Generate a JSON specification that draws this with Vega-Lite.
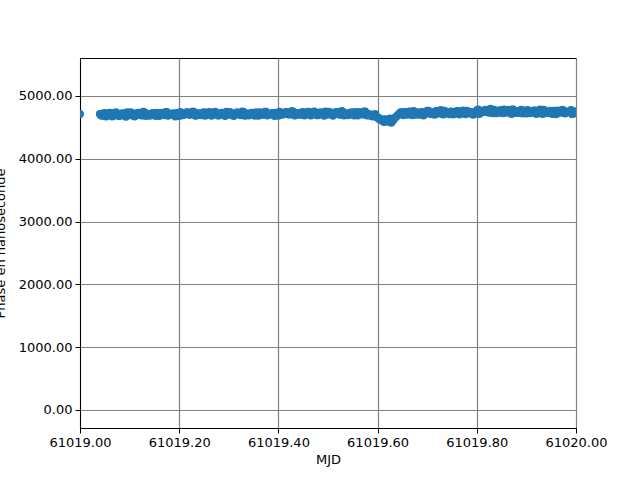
{
  "$schema": "https://vega.github.io/schema/vega-lite/v6.json",
  "width": 496,
  "height": 370,
  "autosize": {"type": "none"},
  "padding": {"left": 80, "top": 58, "right": 64, "bottom": 52},
  "background": "white",
  "config": {
    "font": "DejaVu Sans",
    "view": {"stroke": "black", "strokeWidth": 1},
    "axis": {
      "labelFont": "DejaVu Sans",
      "titleFont": "DejaVu Sans",
      "labelFontSize": 13,
      "titleFontSize": 13,
      "titleFontWeight": "normal",
      "labelColor": "black",
      "titleColor": "black",
      "tickColor": "black",
      "tickSize": 5,
      "domainColor": "black",
      "gridColor": "#808080",
      "gridWidth": 1.2,
      "gridOpacity": 1,
      "labelPadding": 3
    }
  },
  "data": {"values": [
    {"mjd": 61019.000, "phase": 4715},
    {"mjd": 61019.040, "phase": 4715},{"mjd": 61019.045, "phase": 4685},{"mjd": 61019.050, "phase": 4730},{"mjd": 61019.055, "phase": 4700},
    {"mjd": 61019.060, "phase": 4735},{"mjd": 61019.065, "phase": 4675},{"mjd": 61019.070, "phase": 4705},{"mjd": 61019.075, "phase": 4720},
    {"mjd": 61019.080, "phase": 4680},{"mjd": 61019.085, "phase": 4725},{"mjd": 61019.090, "phase": 4695},{"mjd": 61019.095, "phase": 4740},
    {"mjd": 61019.100, "phase": 4695},{"mjd": 61019.105, "phase": 4715},{"mjd": 61019.110, "phase": 4675},{"mjd": 61019.115, "phase": 4730},
    {"mjd": 61019.120, "phase": 4720},{"mjd": 61019.125, "phase": 4690},{"mjd": 61019.130, "phase": 4740},{"mjd": 61019.135, "phase": 4705},
    {"mjd": 61019.140, "phase": 4685},{"mjd": 61019.145, "phase": 4725},{"mjd": 61019.150, "phase": 4710},{"mjd": 61019.155, "phase": 4735},
    {"mjd": 61019.160, "phase": 4680},{"mjd": 61019.165, "phase": 4720},{"mjd": 61019.170, "phase": 4695},{"mjd": 61019.175, "phase": 4745},
    {"mjd": 61019.180, "phase": 4700},{"mjd": 61019.185, "phase": 4715},{"mjd": 61019.190, "phase": 4690},{"mjd": 61019.195, "phase": 4730},
    {"mjd": 61019.200, "phase": 4680},{"mjd": 61019.205, "phase": 4730},{"mjd": 61019.210, "phase": 4710},{"mjd": 61019.215, "phase": 4740},
    {"mjd": 61019.220, "phase": 4700},{"mjd": 61019.225, "phase": 4715},{"mjd": 61019.230, "phase": 4745},{"mjd": 61019.235, "phase": 4690},
    {"mjd": 61019.240, "phase": 4725},{"mjd": 61019.245, "phase": 4695},{"mjd": 61019.250, "phase": 4740},{"mjd": 61019.255, "phase": 4710},
    {"mjd": 61019.260, "phase": 4745},{"mjd": 61019.265, "phase": 4685},{"mjd": 61019.270, "phase": 4715},{"mjd": 61019.275, "phase": 4730},
    {"mjd": 61019.280, "phase": 4690},{"mjd": 61019.285, "phase": 4735},{"mjd": 61019.290, "phase": 4705},{"mjd": 61019.295, "phase": 4750},
    {"mjd": 61019.300, "phase": 4700},{"mjd": 61019.305, "phase": 4720},{"mjd": 61019.310, "phase": 4680},{"mjd": 61019.315, "phase": 4735},
    {"mjd": 61019.320, "phase": 4725},{"mjd": 61019.325, "phase": 4695},{"mjd": 61019.330, "phase": 4745},{"mjd": 61019.335, "phase": 4710},
    {"mjd": 61019.340, "phase": 4690},{"mjd": 61019.345, "phase": 4730},{"mjd": 61019.350, "phase": 4715},{"mjd": 61019.355, "phase": 4740},
    {"mjd": 61019.360, "phase": 4685},{"mjd": 61019.365, "phase": 4725},{"mjd": 61019.370, "phase": 4700},{"mjd": 61019.375, "phase": 4750},
    {"mjd": 61019.380, "phase": 4705},{"mjd": 61019.385, "phase": 4720},{"mjd": 61019.390, "phase": 4695},{"mjd": 61019.395, "phase": 4735},
    {"mjd": 61019.400, "phase": 4685},{"mjd": 61019.405, "phase": 4735},{"mjd": 61019.410, "phase": 4715},{"mjd": 61019.415, "phase": 4745},
    {"mjd": 61019.420, "phase": 4705},{"mjd": 61019.425, "phase": 4720},{"mjd": 61019.430, "phase": 4750},{"mjd": 61019.435, "phase": 4695},
    {"mjd": 61019.440, "phase": 4730},{"mjd": 61019.445, "phase": 4700},{"mjd": 61019.450, "phase": 4745},{"mjd": 61019.455, "phase": 4715},
    {"mjd": 61019.460, "phase": 4750},{"mjd": 61019.465, "phase": 4690},{"mjd": 61019.470, "phase": 4720},{"mjd": 61019.475, "phase": 4735},
    {"mjd": 61019.480, "phase": 4695},{"mjd": 61019.485, "phase": 4740},{"mjd": 61019.490, "phase": 4710},{"mjd": 61019.495, "phase": 4755},
    {"mjd": 61019.500, "phase": 4705},{"mjd": 61019.505, "phase": 4725},{"mjd": 61019.510, "phase": 4685},{"mjd": 61019.515, "phase": 4740},
    {"mjd": 61019.520, "phase": 4730},{"mjd": 61019.525, "phase": 4700},{"mjd": 61019.530, "phase": 4750},{"mjd": 61019.535, "phase": 4715},
    {"mjd": 61019.540, "phase": 4695},{"mjd": 61019.545, "phase": 4735},{"mjd": 61019.550, "phase": 4720},{"mjd": 61019.555, "phase": 4745},
    {"mjd": 61019.560, "phase": 4690},{"mjd": 61019.565, "phase": 4730},{"mjd": 61019.570, "phase": 4705},{"mjd": 61019.575, "phase": 4755},
    {"mjd": 61019.580, "phase": 4690},{"mjd": 61019.585, "phase": 4710},{"mjd": 61019.590, "phase": 4675},{"mjd": 61019.595, "phase": 4715},
    {"mjd": 61019.600, "phase": 4660},{"mjd": 61019.605, "phase": 4640},{"mjd": 61019.610, "phase": 4610},{"mjd": 61019.615, "phase": 4630},
    {"mjd": 61019.620, "phase": 4590},{"mjd": 61019.625, "phase": 4640},{"mjd": 61019.630, "phase": 4600},{"mjd": 61019.635, "phase": 4655},
    {"mjd": 61019.640, "phase": 4690},{"mjd": 61019.645, "phase": 4730},{"mjd": 61019.650, "phase": 4710},{"mjd": 61019.655, "phase": 4745},
    {"mjd": 61019.660, "phase": 4700},{"mjd": 61019.665, "phase": 4755},{"mjd": 61019.670, "phase": 4695},{"mjd": 61019.675, "phase": 4725},
    {"mjd": 61019.680, "phase": 4740},{"mjd": 61019.685, "phase": 4700},{"mjd": 61019.690, "phase": 4745},{"mjd": 61019.695, "phase": 4715},
    {"mjd": 61019.700, "phase": 4765},{"mjd": 61019.705, "phase": 4720},{"mjd": 61019.710, "phase": 4740},{"mjd": 61019.715, "phase": 4700},
    {"mjd": 61019.720, "phase": 4755},{"mjd": 61019.725, "phase": 4745},{"mjd": 61019.730, "phase": 4715},{"mjd": 61019.735, "phase": 4765},
    {"mjd": 61019.740, "phase": 4730},{"mjd": 61019.745, "phase": 4710},{"mjd": 61019.750, "phase": 4750},{"mjd": 61019.755, "phase": 4735},
    {"mjd": 61019.760, "phase": 4760},{"mjd": 61019.765, "phase": 4705},{"mjd": 61019.770, "phase": 4745},{"mjd": 61019.775, "phase": 4720},
    {"mjd": 61019.780, "phase": 4765},{"mjd": 61019.785, "phase": 4725},{"mjd": 61019.790, "phase": 4740},{"mjd": 61019.795, "phase": 4715},
    {"mjd": 61019.800, "phase": 4770},{"mjd": 61019.805, "phase": 4715},{"mjd": 61019.810, "phase": 4765},{"mjd": 61019.815, "phase": 4745},
    {"mjd": 61019.820, "phase": 4775},{"mjd": 61019.825, "phase": 4735},{"mjd": 61019.830, "phase": 4750},{"mjd": 61019.835, "phase": 4780},
    {"mjd": 61019.840, "phase": 4725},{"mjd": 61019.845, "phase": 4760},{"mjd": 61019.850, "phase": 4730},{"mjd": 61019.855, "phase": 4785},
    {"mjd": 61019.860, "phase": 4735},{"mjd": 61019.865, "phase": 4755},{"mjd": 61019.870, "phase": 4715},{"mjd": 61019.875, "phase": 4770},
    {"mjd": 61019.880, "phase": 4760},{"mjd": 61019.885, "phase": 4730},{"mjd": 61019.890, "phase": 4780},{"mjd": 61019.895, "phase": 4745},
    {"mjd": 61019.900, "phase": 4720},{"mjd": 61019.905, "phase": 4760},{"mjd": 61019.910, "phase": 4745},{"mjd": 61019.915, "phase": 4770},
    {"mjd": 61019.920, "phase": 4715},{"mjd": 61019.925, "phase": 4755},{"mjd": 61019.930, "phase": 4730},{"mjd": 61019.935, "phase": 4780},
    {"mjd": 61019.940, "phase": 4735},{"mjd": 61019.945, "phase": 4750},{"mjd": 61019.950, "phase": 4725},{"mjd": 61019.955, "phase": 4765},
    {"mjd": 61019.960, "phase": 4710},{"mjd": 61019.965, "phase": 4760},{"mjd": 61019.970, "phase": 4740},{"mjd": 61019.975, "phase": 4770},
    {"mjd": 61019.980, "phase": 4730},{"mjd": 61019.985, "phase": 4745},{"mjd": 61019.990, "phase": 4775},{"mjd": 61019.995, "phase": 4720},
    {"mjd": 61020.000, "phase": 4750},
    {"mjd": 61019.0425, "phase": 4690},{"mjd": 61019.0475, "phase": 4725},{"mjd": 61019.0525, "phase": 4675},{"mjd": 61019.0575, "phase": 4710},
    {"mjd": 61019.0625, "phase": 4730},{"mjd": 61019.0675, "phase": 4695},{"mjd": 61019.0725, "phase": 4740},{"mjd": 61019.0775, "phase": 4680},
    {"mjd": 61019.0825, "phase": 4705},{"mjd": 61019.0875, "phase": 4720},{"mjd": 61019.0925, "phase": 4670},{"mjd": 61019.0975, "phase": 4715},
    {"mjd": 61019.1025, "phase": 4740},{"mjd": 61019.1075, "phase": 4690},{"mjd": 61019.1125, "phase": 4705},{"mjd": 61019.1175, "phase": 4735},
    {"mjd": 61019.1225, "phase": 4695},{"mjd": 61019.1275, "phase": 4750},{"mjd": 61019.1325, "phase": 4680},{"mjd": 61019.1375, "phase": 4715},
    {"mjd": 61019.1425, "phase": 4695},{"mjd": 61019.1475, "phase": 4730},{"mjd": 61019.1525, "phase": 4680},{"mjd": 61019.1575, "phase": 4715},
    {"mjd": 61019.1625, "phase": 4735},{"mjd": 61019.1675, "phase": 4700},{"mjd": 61019.1725, "phase": 4745},{"mjd": 61019.1775, "phase": 4685},
    {"mjd": 61019.1825, "phase": 4710},{"mjd": 61019.1875, "phase": 4725},{"mjd": 61019.1925, "phase": 4675},{"mjd": 61019.1975, "phase": 4720},
    {"mjd": 61019.2025, "phase": 4745},{"mjd": 61019.2075, "phase": 4695},{"mjd": 61019.2125, "phase": 4710},{"mjd": 61019.2175, "phase": 4740},
    {"mjd": 61019.2225, "phase": 4700},{"mjd": 61019.2275, "phase": 4755},{"mjd": 61019.2325, "phase": 4685},{"mjd": 61019.2375, "phase": 4720},
    {"mjd": 61019.2425, "phase": 4700},{"mjd": 61019.2475, "phase": 4735},{"mjd": 61019.2525, "phase": 4685},{"mjd": 61019.2575, "phase": 4720},
    {"mjd": 61019.2625, "phase": 4740},{"mjd": 61019.2675, "phase": 4705},{"mjd": 61019.2725, "phase": 4750},{"mjd": 61019.2775, "phase": 4690},
    {"mjd": 61019.2825, "phase": 4715},{"mjd": 61019.2875, "phase": 4730},{"mjd": 61019.2925, "phase": 4680},{"mjd": 61019.2975, "phase": 4725},
    {"mjd": 61019.3025, "phase": 4745},{"mjd": 61019.3075, "phase": 4695},{"mjd": 61019.3125, "phase": 4710},{"mjd": 61019.3175, "phase": 4740},
    {"mjd": 61019.3225, "phase": 4700},{"mjd": 61019.3275, "phase": 4755},{"mjd": 61019.3325, "phase": 4685},{"mjd": 61019.3375, "phase": 4720},
    {"mjd": 61019.3425, "phase": 4700},{"mjd": 61019.3475, "phase": 4735},{"mjd": 61019.3525, "phase": 4685},{"mjd": 61019.3575, "phase": 4720},
    {"mjd": 61019.3625, "phase": 4740},{"mjd": 61019.3675, "phase": 4705},{"mjd": 61019.3725, "phase": 4750},{"mjd": 61019.3775, "phase": 4690},
    {"mjd": 61019.3825, "phase": 4715},{"mjd": 61019.3875, "phase": 4730},{"mjd": 61019.3925, "phase": 4680},{"mjd": 61019.3975, "phase": 4725},
    {"mjd": 61019.4025, "phase": 4750},{"mjd": 61019.4075, "phase": 4700},{"mjd": 61019.4125, "phase": 4715},{"mjd": 61019.4175, "phase": 4745},
    {"mjd": 61019.4225, "phase": 4705},{"mjd": 61019.4275, "phase": 4760},{"mjd": 61019.4325, "phase": 4690},{"mjd": 61019.4375, "phase": 4725},
    {"mjd": 61019.4425, "phase": 4705},{"mjd": 61019.4475, "phase": 4740},{"mjd": 61019.4525, "phase": 4690},{"mjd": 61019.4575, "phase": 4725},
    {"mjd": 61019.4625, "phase": 4745},{"mjd": 61019.4675, "phase": 4710},{"mjd": 61019.4725, "phase": 4755},{"mjd": 61019.4775, "phase": 4695},
    {"mjd": 61019.4825, "phase": 4720},{"mjd": 61019.4875, "phase": 4735},{"mjd": 61019.4925, "phase": 4685},{"mjd": 61019.4975, "phase": 4730},
    {"mjd": 61019.5025, "phase": 4750},{"mjd": 61019.5075, "phase": 4700},{"mjd": 61019.5125, "phase": 4715},{"mjd": 61019.5175, "phase": 4745},
    {"mjd": 61019.5225, "phase": 4705},{"mjd": 61019.5275, "phase": 4760},{"mjd": 61019.5325, "phase": 4690},{"mjd": 61019.5375, "phase": 4725},
    {"mjd": 61019.5425, "phase": 4705},{"mjd": 61019.5475, "phase": 4740},{"mjd": 61019.5525, "phase": 4690},{"mjd": 61019.5575, "phase": 4725},
    {"mjd": 61019.5625, "phase": 4745},{"mjd": 61019.5675, "phase": 4710},{"mjd": 61019.5725, "phase": 4755},{"mjd": 61019.5775, "phase": 4695},
    {"mjd": 61019.5825, "phase": 4705},{"mjd": 61019.5875, "phase": 4680},{"mjd": 61019.5925, "phase": 4695},{"mjd": 61019.5975, "phase": 4665},
    {"mjd": 61019.6025, "phase": 4635},{"mjd": 61019.6075, "phase": 4615},{"mjd": 61019.6125, "phase": 4585},{"mjd": 61019.6175, "phase": 4620},
    {"mjd": 61019.6225, "phase": 4605},{"mjd": 61019.6275, "phase": 4575},{"mjd": 61019.6325, "phase": 4625},{"mjd": 61019.6375, "phase": 4670},
    {"mjd": 61019.6425, "phase": 4710},{"mjd": 61019.6475, "phase": 4745},{"mjd": 61019.6525, "phase": 4695},{"mjd": 61019.6575, "phase": 4730},
    {"mjd": 61019.6625, "phase": 4750},{"mjd": 61019.6675, "phase": 4715},{"mjd": 61019.6725, "phase": 4760},{"mjd": 61019.6775, "phase": 4700},
    {"mjd": 61019.6825, "phase": 4725},{"mjd": 61019.6875, "phase": 4740},{"mjd": 61019.6925, "phase": 4690},{"mjd": 61019.6975, "phase": 4735},
    {"mjd": 61019.7025, "phase": 4765},{"mjd": 61019.7075, "phase": 4715},{"mjd": 61019.7125, "phase": 4730},{"mjd": 61019.7175, "phase": 4760},
    {"mjd": 61019.7225, "phase": 4720},{"mjd": 61019.7275, "phase": 4775},{"mjd": 61019.7325, "phase": 4705},{"mjd": 61019.7375, "phase": 4740},
    {"mjd": 61019.7425, "phase": 4720},{"mjd": 61019.7475, "phase": 4755},{"mjd": 61019.7525, "phase": 4705},{"mjd": 61019.7575, "phase": 4740},
    {"mjd": 61019.7625, "phase": 4760},{"mjd": 61019.7675, "phase": 4725},{"mjd": 61019.7725, "phase": 4770},{"mjd": 61019.7775, "phase": 4710},
    {"mjd": 61019.7825, "phase": 4735},{"mjd": 61019.7875, "phase": 4750},{"mjd": 61019.7925, "phase": 4700},{"mjd": 61019.7975, "phase": 4745},
    {"mjd": 61019.8025, "phase": 4785},{"mjd": 61019.8075, "phase": 4735},{"mjd": 61019.8125, "phase": 4750},{"mjd": 61019.8175, "phase": 4780},
    {"mjd": 61019.8225, "phase": 4740},{"mjd": 61019.8275, "phase": 4795},{"mjd": 61019.8325, "phase": 4725},{"mjd": 61019.8375, "phase": 4760},
    {"mjd": 61019.8425, "phase": 4740},{"mjd": 61019.8475, "phase": 4775},{"mjd": 61019.8525, "phase": 4725},{"mjd": 61019.8575, "phase": 4760},
    {"mjd": 61019.8625, "phase": 4780},{"mjd": 61019.8675, "phase": 4745},{"mjd": 61019.8725, "phase": 4790},{"mjd": 61019.8775, "phase": 4730},
    {"mjd": 61019.8825, "phase": 4755},{"mjd": 61019.8875, "phase": 4770},{"mjd": 61019.8925, "phase": 4720},{"mjd": 61019.8975, "phase": 4765},
    {"mjd": 61019.9025, "phase": 4775},{"mjd": 61019.9075, "phase": 4725},{"mjd": 61019.9125, "phase": 4740},{"mjd": 61019.9175, "phase": 4770},
    {"mjd": 61019.9225, "phase": 4730},{"mjd": 61019.9275, "phase": 4785},{"mjd": 61019.9325, "phase": 4715},{"mjd": 61019.9375, "phase": 4750},
    {"mjd": 61019.9425, "phase": 4730},{"mjd": 61019.9475, "phase": 4765},{"mjd": 61019.9525, "phase": 4715},{"mjd": 61019.9575, "phase": 4750},
    {"mjd": 61019.9625, "phase": 4770},{"mjd": 61019.9675, "phase": 4735},{"mjd": 61019.9725, "phase": 4780},{"mjd": 61019.9775, "phase": 4720},
    {"mjd": 61019.9825, "phase": 4745},{"mjd": 61019.9875, "phase": 4760},{"mjd": 61019.9925, "phase": 4710},{"mjd": 61019.9975, "phase": 4755}
  ]},
  "mark": {"type": "circle", "size": 64, "color": "#1f77b4", "opacity": 1, "clip": true},
  "encoding": {
    "x": {
      "field": "mjd", "type": "quantitative",
      "scale": {"domain": [61019, 61020], "nice": false, "zero": false},
      "axis": {"values": [61019, 61019.2, 61019.4, 61019.6, 61019.8, 61020], "format": ".2f", "title": "MJD", "grid": true, "labelFlush": false, "titlePadding": 4}
    },
    "y": {
      "field": "phase", "type": "quantitative",
      "scale": {"domain": [-287, 5605], "nice": false, "zero": false},
      "axis": {"values": [0, 1000, 2000, 3000, 4000, 5000], "format": ".2f", "title": "Phase en nanoseconde", "grid": true, "titleX": -73, "titleY": 185, "titleBaseline": "bottom", "titleAngle": -90, "titleAlign": "center"}
    }
  }
}
